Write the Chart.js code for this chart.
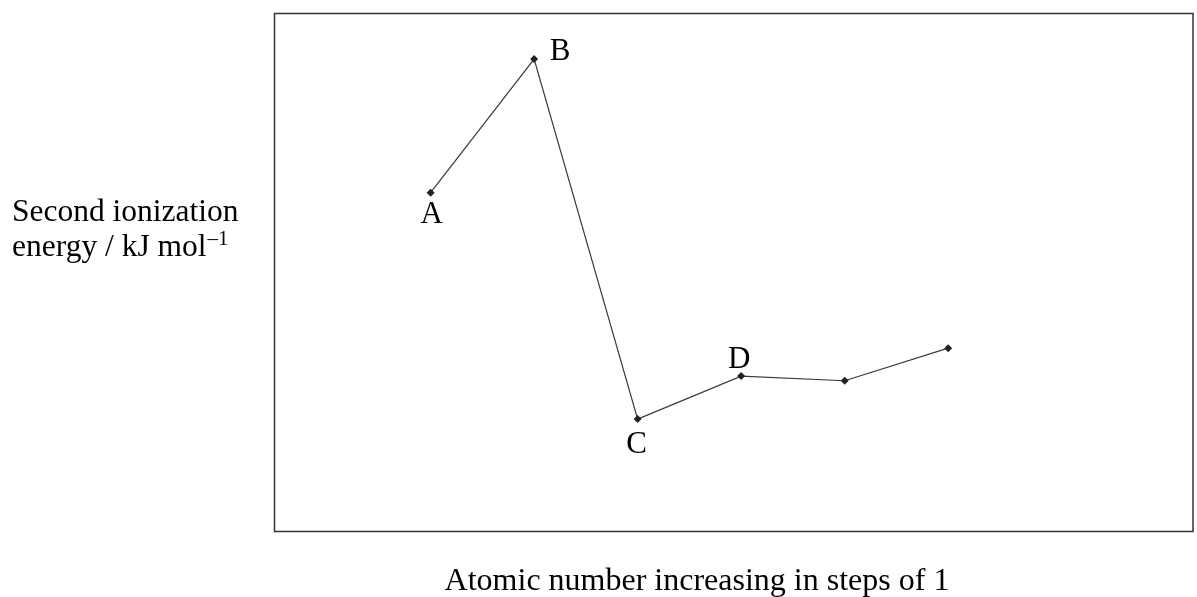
<!DOCTYPE html>
<html>
<head>
<meta charset="utf-8">
<script src="https://cdn.jsdelivr.net/npm/chart.js@4/dist/chart.umd.min.js"></script>
<style>
  html, body { margin: 0; padding: 0; background: #fff; }
  #wrap { width: 1197px; height: 597px; position: relative; }
</style>
</head>
<body>
<div id="wrap"><canvas id="ie2"></canvas></div>
<script>
// successive elements, atomic number increasing in steps of 1 (no numeric scale in the original)
const steps = [1, 2, 3, 4, 5, 6];
// second ionization energy, relative units (0 = bottom of box, 100 = top)
const energy = [65.4, 91.2, 21.7, 30.0, 29.1, 35.4];
const pointLabels = ['A', 'B', 'C', 'D', '', ''];

const SERIF = '"Liberation Serif", "Times New Roman", serif';

// where each letter sits relative to its point
const labelOffset = [
    { dx: 1, dy: 30 },
    { dx: 26, dy: 1 },
    { dx: -1, dy: 34 },
    { dx: -2, dy: -8 }
];

const sketchDecor = {
    id: 'sketchDecor',
    afterDraw(chart) {
        const ctx = chart.ctx;
        const area = chart.chartArea;
        ctx.save();

        // frame
        ctx.strokeStyle = '#333';
        ctx.lineWidth = 1.5;
        ctx.strokeRect(area.left, area.top, area.right - area.left, area.bottom - area.top);

        // point letters
        ctx.fillStyle = '#000';
        ctx.font = '31px ' + SERIF;
        ctx.textAlign = 'center';
        ctx.textBaseline = 'alphabetic';
        const meta = chart.getDatasetMeta(0);
        pointLabels.forEach(function (txt, i) {
            if (!txt) return;
            const p = meta.data[i];
            const off = labelOffset[i];
            ctx.fillText(txt, p.x + off.dx, p.y + off.dy);
        });

        // y axis caption, horizontal, two lines
        ctx.font = '31.5px ' + SERIF;
        ctx.textAlign = 'left';
        ctx.fillText('Second ionization', 12, 221);
        const line2 = 'energy / kJ mol';
        ctx.fillText(line2, 12, 256);
        const w = ctx.measureText(line2).width;
        ctx.font = '21px ' + SERIF;
        ctx.fillText('\u20131', 12 + w + 1, 245);

        // x axis caption
        ctx.font = '32px ' + SERIF;
        ctx.textAlign = 'center';
        ctx.fillText('Atomic number increasing in steps of 1', 697, 590);

        ctx.restore();
    }
};

new Chart(document.getElementById('ie2'), {
    type: 'line',
    data: {
        datasets: [{
            data: steps.map(function (s, i) { return { x: s, y: energy[i] }; }),
            borderColor: '#3a3a3a',
            borderWidth: 1.2,
            pointStyle: 'rectRot',
            pointRadius: 4,
            pointBackgroundColor: '#222',
            pointBorderColor: '#222',
            pointBorderWidth: 0,
            tension: 0,
            clip: false
        }]
    },
    options: {
        responsive: true,
        maintainAspectRatio: false,
        animation: false,
        layout: {
            padding: { left: 274.5, top: 13.5, right: 1.5, bottom: 65.5 }
        },
        plugins: {
            legend: { display: false },
            tooltip: { enabled: false }
        },
        scales: {
            x: { type: 'linear', display: false, min: -0.508, max: 8.365 },
            y: { type: 'linear', display: false, min: 0, max: 100 }
        }
    },
    plugins: [sketchDecor]
});
</script>
</body>
</html>
